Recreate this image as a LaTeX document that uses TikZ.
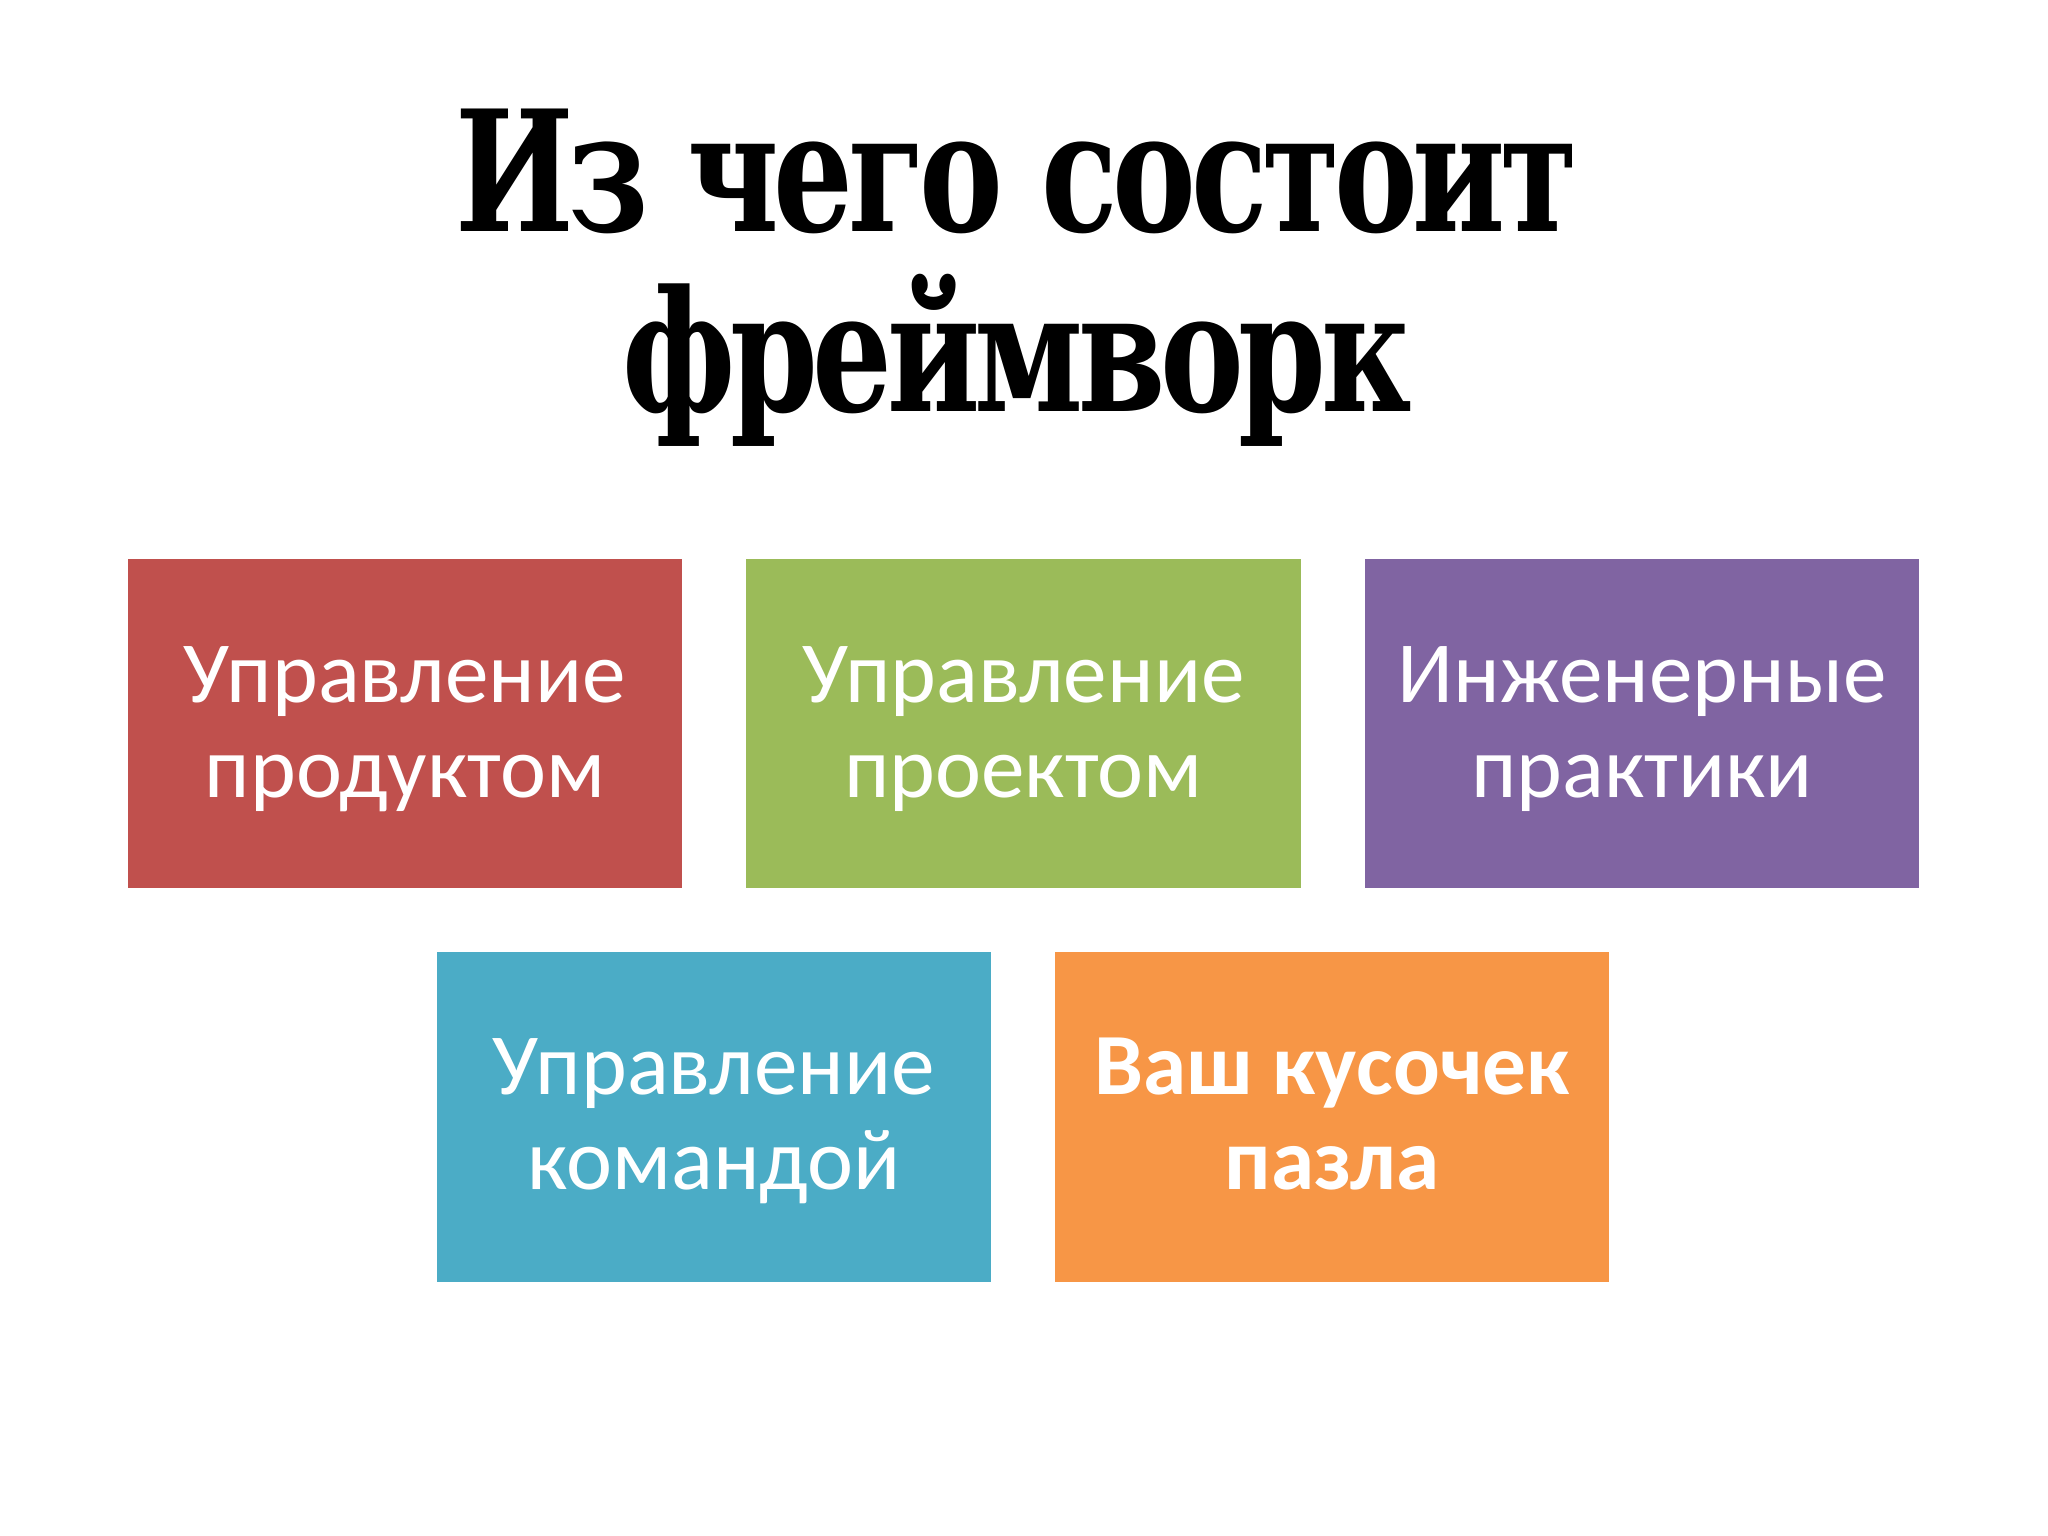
\documentclass[tikz,border=0pt]{standalone}
\usepackage{fontspec}
\setmainfont{Carlito}
\newfontfamily\titlefont{DejaVu Serif Condensed Bold}[FakeStretch=0.83,LetterSpace=-3.2]
\definecolor{cred}{HTML}{C0504D}
\definecolor{cgreen}{HTML}{9BBB59}
\definecolor{cpurple}{HTML}{8064A2}
\definecolor{caqua}{HTML}{4BACC6}
\definecolor{corange}{HTML}{F79646}
\tikzset{
  tile/.style={rectangle, draw=none, inner sep=0pt, minimum width=5.54cm, minimum height=3.29cm},
  lbl/.style={text=white, align=center, inner sep=0pt, anchor=base, font=\fontsize{24.8}{27}\selectfont},
  ttl/.style={align=center, inner sep=0pt, anchor=base, font=\titlefont\fontsize{47.8}{51}\selectfont},
}
\begin{document}
\begin{tikzpicture}[x=0.01cm,y=-0.01cm]
\useasboundingbox[fill=white] (0,0) rectangle (2048,1536);
\node[ttl] (title) at (1017,411) {Из чего состоит\\фреймворк};
\node[tile, fill=cred] (b1) at (405,723.5) {};
\node[tile, fill=cgreen] (b2) at (1023.5,723.5) {};
\node[tile, fill=cpurple] (b3) at (1642,723.5) {};
\node[tile, fill=caqua] (b4) at (714,1117) {};
\node[tile, fill=corange] (b5) at (1332,1117) {};
\node[lbl] (t1) at (405,797) {Управление\\продуктом};
\node[lbl] (t2) at (1023.5,797) {Управление\\проектом};
\node[lbl] (t3) at (1642,797) {Инженерные\\практики};
\node[lbl] (t4) at (714,1189) {Управление\\командой};
\node[lbl, font=\bfseries\fontsize{24.8}{27}\selectfont] (t5) at (1332,1189) {Ваш кусочек\\пазла};
\end{tikzpicture}
\end{document}
